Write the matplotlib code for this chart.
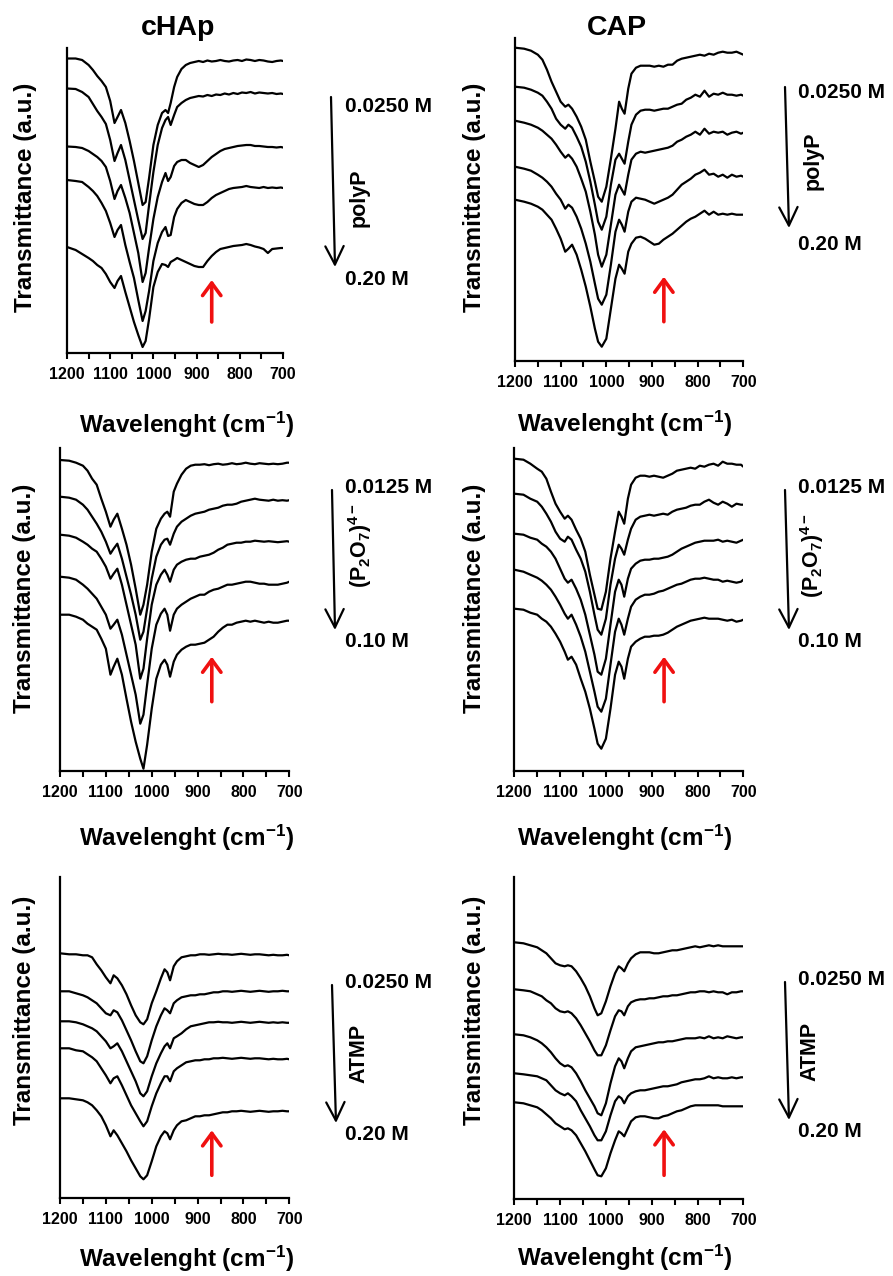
import matplotlib
matplotlib.use("Agg")
import matplotlib.pyplot as plt
from matplotlib.patches import FancyArrowPatch
from matplotlib.ticker import MultipleLocator

# ---------------------------------------------------------------- data
WAVENUMBER = [1200, 1180, 1165, 1150, 1140, 1130, 1120, 1110, 1100,
              1090, 1083, 1075, 1065, 1055, 1045, 1035, 1025, 1018, 1010,
              1000, 990, 980, 972, 966, 960, 952, 945, 935, 925,
              915, 905, 895, 885, 875, 865, 855, 845, 835, 825,
              815, 805, 795, 785, 775, 765, 755, 745, 735, 725,
              715, 705, 700]

XTICKS = [1200, 1100, 1000, 900, 800, 700]

# stacked transmittance traces (a.u.), low -> high additive concentration
CHAP_POLYP = [
    [294.5, 294.5, 293, 288, 283, 277, 272, 266, 252,
     230, 236, 243, 230, 212, 192, 170, 148, 151, 175,
     208, 228, 240, 243, 240, 250, 266, 276, 284, 288,
     290, 291, 292, 291, 292.5, 291.5, 292, 293, 292, 291.5,
     292.5, 293, 292, 293.5, 293, 292, 293, 292.5, 291.5, 291,
     292, 292.5, 292],
    [264.5, 264, 261, 256, 249, 242, 236, 229, 213,
     192, 200, 208, 193, 173, 153, 133, 114, 120, 148,
     181, 208, 225, 233, 236, 228, 238, 246, 250, 253,
     255, 256, 257, 256.5, 258, 257, 258.5, 258, 259.5, 258.5,
     260, 259, 260.5, 260, 261, 259.5, 260.5, 260, 259.5, 260,
     259, 259.5, 259],
    [206.5, 206, 205, 202, 199, 196, 192, 186, 172,
     154, 162, 168, 155, 140, 120, 100, 71, 80, 105,
     134, 156, 171, 180, 172, 176, 187, 191, 193, 193,
     190, 188, 186, 188, 192, 196, 199, 202, 204, 205,
     206, 207, 207.5, 208, 208, 207, 207, 206.5, 206, 206,
     205.5, 206, 205.5],
    [173, 172, 171, 166, 162, 157, 150, 142, 130,
     116, 123, 128, 108, 91, 75, 53, 32, 42, 62,
     92, 110, 121, 126, 117, 118, 136, 144, 150, 153,
     151, 149, 148, 148, 151, 155, 158, 160, 162, 164,
     165, 165.5, 166, 167, 166, 165.5, 165, 166, 165, 165.5,
     165, 165.5, 165],
    [106, 103, 99, 95, 92, 88, 85, 79, 71,
     65, 72, 77, 61, 46, 31, 18, 6, 12, 34,
     66, 81, 89, 88, 86, 91, 93, 95, 93, 91,
     89, 87, 86, 86, 92, 97, 101, 104, 105, 106,
     107, 107.5, 108, 109, 108, 106.5, 105.5, 104, 100, 104,
     104.5, 105, 105],
]

CAP_POLYP = [
    [313, 312, 310, 306, 301, 291, 279, 269, 259,
     254, 256, 252, 244, 234, 221, 199, 179, 164, 159,
     174, 202, 232, 259, 252, 247, 272, 287, 293, 295,
     295, 295, 294, 295, 294, 296, 296, 300, 302, 303,
     304, 305, 306, 305, 307, 306, 308, 309, 308, 308,
     309, 307, 306],
    [274, 273, 271, 268, 265, 259, 252, 242, 236,
     232, 236, 233, 224, 214, 199, 179, 156, 139, 131,
     144, 176, 201, 207, 202, 197, 219, 236, 246, 250,
     251, 251, 250, 251, 252, 252, 254, 256, 257, 261,
     263, 266, 264, 270, 264, 267, 266, 268, 266, 266,
     265, 266, 265],
    [240, 238, 236, 233, 230, 226, 222, 216, 209,
     203, 206, 202, 194, 182, 169, 149, 126, 106, 94,
     106, 136, 166, 176, 171, 166, 186, 201, 207, 209,
     208, 209, 210, 211, 212, 213, 215, 219, 221, 224,
     226, 229, 226, 232, 227, 229, 228, 229, 226, 228,
     229, 227, 228],
    [194, 192, 190, 186, 183, 179, 174, 167, 161,
     152, 156, 153, 144, 132, 117, 99, 77, 62, 56,
     66, 96, 129, 141, 136, 129, 149, 159, 163, 162,
     161, 159, 157, 159, 161, 163, 166, 171, 176, 179,
     182, 186, 188, 191, 186, 187, 184, 186, 183, 186,
     184, 185, 184],
    [161, 159, 157, 154, 151, 146, 141, 132, 122,
     109, 112, 116, 106, 91, 74, 54, 32, 19, 14,
     22, 52, 82, 96, 92, 87, 109, 117, 123, 124,
     122, 119, 116, 117, 121, 124, 127, 131, 135, 139,
     142, 144, 147, 150, 146, 149, 146, 147, 146, 147,
     146, 146, 146],
]

CHAP_P2O7 = [
    [310.7, 310, 308, 305, 300, 292, 286, 272, 259,
     244, 251, 257, 242, 226, 206, 182, 156, 166, 186,
     219, 242, 252, 257, 259, 254, 279, 287, 296, 302,
     305, 306, 306, 306.5, 305.5, 306.5, 307, 306, 306.5, 307.5,
     306.5, 307, 308, 307, 306.5, 307.5, 307, 306.5, 307, 306.5,
     307, 308, 308],
    [274, 273, 271, 266, 261, 254, 247, 239, 229,
     217, 222, 227, 212, 194, 176, 156, 131, 139, 162,
     192, 214, 226, 231, 232, 226, 237, 244, 249, 252,
     255, 257, 258, 259, 261, 262, 263, 265, 266, 266,
     267, 269, 270, 271, 272, 271, 270.5, 270, 271, 270,
     270.5, 270, 270.5],
    [236, 235, 233, 229, 226, 222, 219, 212, 204,
     192, 197, 202, 186, 166, 146, 126, 92, 102, 132,
     166, 186, 196, 201, 196, 189, 201, 206, 209, 211,
     212, 212, 214, 215, 216, 218, 221, 223, 226, 227,
     228, 228, 229, 229, 230, 229.5, 229, 229.5, 229, 228.5,
     229, 229.5, 229],
    [194, 193, 191, 186, 182, 177, 172, 164, 156,
     142, 146, 151, 136, 116, 96, 76, 47, 56, 86,
     122, 146, 157, 162, 156, 140, 156, 162, 166, 169,
     172, 174, 176, 176, 179, 181, 182, 184, 186, 186,
     187, 188, 189, 189, 188, 187, 187, 186, 186, 186,
     187, 188, 189],
    [156, 156, 154, 151, 147, 144, 141, 132, 122,
     96, 104, 112, 96, 72, 49, 29, 12, 2, 26,
     62, 92, 106, 111, 106, 94, 109, 116, 121, 124,
     126, 126, 127, 128, 131, 134, 139, 143, 146, 146,
     148, 149, 150, 149, 150, 149, 148, 149, 148, 148,
     149, 150, 150],
]

CAP_P2O7 = [
    [312, 311, 307, 302, 299, 292, 279, 267, 259,
     252, 255, 251, 241, 232, 219, 196, 176, 162, 161,
     179, 212, 239, 259, 254, 247, 272, 286, 293, 295,
     295, 294, 295, 294, 293, 295, 297, 300, 301, 302,
     303, 302, 305, 304, 306, 307, 305, 309, 307, 307,
     306, 306, 304],
    [277, 276, 272, 269, 264, 257, 249, 239, 232,
     229, 234, 231, 221, 212, 199, 179, 156, 141, 136,
     152, 186, 212, 226, 222, 216, 231, 242, 251, 254,
     255, 256, 255, 256, 257, 256, 259, 261, 262, 263,
     265, 266, 266, 269, 271, 268, 266, 269, 267, 264,
     267, 266, 266],
    [237, 236, 233, 231, 227, 224, 219, 212, 202,
     192, 188, 191, 182, 171, 156, 136, 116, 99, 96,
     112, 146, 179, 191, 186, 174, 192, 202, 207, 210,
     211, 211, 212, 212, 213, 214, 216, 219, 222, 224,
     226, 228, 229, 230, 230, 230, 231, 229, 230, 229,
     228, 230, 231],
    [201, 199, 196, 193, 190, 186, 181, 174, 166,
     157, 152, 156, 146, 134, 119, 99, 79, 64, 59,
     72, 106, 139, 152, 146, 136, 152, 164, 171, 174,
     176, 176, 177, 179, 180, 182, 184, 186, 187, 189,
     191, 192, 192, 193, 192, 191, 191, 189, 190, 189,
     188, 189, 191],
    [162, 161, 158, 156, 152, 149, 144, 137, 129,
     119, 111, 114, 106, 92, 79, 62, 42, 27, 22,
     32, 62, 96, 109, 104, 92, 112, 124, 129, 132,
     134, 134, 135, 135, 136, 138, 141, 144, 146, 148,
     150, 151, 152, 153, 152, 152, 152, 151, 150, 151,
     149, 150, 151],
]

CHAP_ATMP = [
    [245, 244, 244, 243, 243, 241, 234, 228, 221,
     215, 223, 220, 213, 204, 193, 183, 176, 174, 179,
     195, 207, 220, 229, 226, 218, 232, 237, 241, 242,
     243, 243, 244, 244, 243.5, 244, 244.5, 244, 244, 243.5,
     244, 244.5, 244, 243.5, 244, 244, 243.5, 243, 243.5, 243,
     243, 243.5, 243],
    [207, 207, 205, 203, 201, 198, 195, 190, 185,
     183, 188, 186, 178, 168, 158, 147, 137, 135, 142,
     158, 172, 183, 190, 188, 185, 195, 198, 201, 202,
     203, 203, 204, 204, 205, 206, 206, 207, 207, 206.5,
     207, 207.5, 207, 206.5, 207, 207.5, 207, 206.5, 207, 207,
     207.5, 207, 207],
    [177, 177, 176, 174, 172, 170, 167, 162, 157,
     150, 152, 155, 147, 137, 127, 117, 105, 102, 107,
     122, 135, 145, 152, 155, 150, 160, 162, 165, 169,
     172, 173, 174, 175, 176, 176, 176.5, 176, 176, 175.5,
     176, 176.5, 176, 175.5, 176, 176.5, 176, 175.5, 176, 175.5,
     176, 175.5, 175.5],
    [150, 150, 148, 147, 144, 141, 137, 130, 123,
     115, 120, 122, 113, 103, 93, 85, 77, 72, 77,
     92, 105, 115, 122, 122, 117, 127, 130, 133, 136,
     137, 138, 138, 139, 139, 140, 140, 140.5, 140, 139.5,
     140, 140.5, 140, 139.5, 140, 140, 139.5, 139, 139.5, 139,
     139, 139.5, 139],
    [100, 100, 99, 98, 96, 93, 88, 82, 73,
     62, 68, 63, 55, 47, 38, 30, 22, 19, 23,
     37, 52, 62, 67, 65, 59, 68, 73, 77, 78,
     80, 82, 82, 83, 83, 84, 85, 86, 86, 87,
     87, 87.5, 87, 86.5, 87, 87.5, 87, 86.5, 87, 87,
     87.5, 87, 87],
]

CAP_ATMP = [
    [257, 256, 254, 252, 249, 246, 241, 236, 234,
     233, 234, 233, 228, 221, 213, 203, 191, 184, 186,
     198, 213, 226, 233, 231, 228, 236, 241, 245, 247,
     247, 247, 246, 246, 247, 248, 249, 249, 250, 251,
     252, 253, 252, 253, 254, 253, 254, 253, 253, 253,
     253, 253, 253],
    [210, 209, 208, 205, 203, 199, 196, 191, 188,
     187, 188, 186, 181, 174, 166, 158, 149, 144, 144,
     154, 169, 183, 189, 188, 184, 193, 197, 199, 200,
     200, 201, 201, 202, 203, 203, 204, 204, 205, 206,
     207, 207, 208, 208, 207, 208, 207, 207, 205, 207,
     207, 208, 208],
    [165, 164, 162, 159, 156, 152, 147, 141, 136,
     133, 134, 132, 126, 118, 109, 101, 93, 86, 84,
     96, 116, 133, 141, 138, 131, 141, 148, 152, 153,
     154, 155, 156, 157, 157, 158, 158, 159, 160, 161,
     161, 161, 162, 161, 163, 161, 162, 161, 163, 162,
     161, 162, 162],
    [126, 125, 124, 123, 121, 119, 114, 109, 106,
     104, 106, 103, 98, 89, 81, 73, 64, 59, 59,
     68, 84, 98, 103, 101, 96, 103, 106, 108, 109,
     109, 110, 111, 112, 113, 113, 114, 115, 117, 118,
     119, 120, 120, 121, 123, 121, 122, 121, 121, 122,
     121, 122, 122],
    [97, 96, 94, 92, 89, 85, 81, 76, 73,
     70, 71, 69, 64, 56, 48, 39, 30, 24, 23,
     31, 46, 59, 68, 66, 63, 71, 78, 82, 83,
     83, 82, 81, 81, 83, 84, 86, 88, 89, 91,
     93, 94, 94, 94, 94, 94, 94, 93, 93, 93,
     93, 93, 93],
]

SAMPLES = ['cHAp', 'CAP']
POLYP_CONC = ['0.0250 M', '0.20 M']
P2O7_CONC = ['0.0125 M', '0.10 M']
ATMP_CONC = ['0.0250 M', '0.20 M']
ADDITIVES = ['polyP', r'(P$_2$O$_7$)$^{4-}$', 'ATMP']
MARKED_BAND = [865, 874, 869, 873, 869, 873]   # cm-1, position of red marker

# ---------------------------------------------------------------- style
plt.rcParams['font.family'] = ['Liberation Sans', 'DejaVu Sans']
plt.rcParams['font.weight'] = 'bold'
plt.rcParams['mathtext.fontset'] = 'custom'
plt.rcParams['mathtext.rm'] = 'Liberation Sans:bold'
plt.rcParams['mathtext.it'] = 'Liberation Sans:bold'
plt.rcParams['mathtext.bf'] = 'Liberation Sans:bold'

W, H = 893, 1276
fig = plt.figure(figsize=(W / 100, H / 100), dpi=100)


def fpos(x, y):
    """figure-pixel (top-left origin) -> figure fraction"""
    return x / W, 1 - y / H


# panel layout: axes box in figure pixels (x0, y0, x1, y1)
panels = [
    dict(box=(67, 48, 283, 353), data=CHAP_POLYP, conc=POLYP_CONC, add=ADDITIVES[0],
         xl=(187, 433), yl=(26, 197), arr=((331, 97), (335, 267)),
         c_hi=(345, 111.7), c_lo=(345, 285), addpos=(359, 197.5),
         red=(73, 31), title=(SAMPLES[0], 178, 35)),
    dict(box=(515, 38.3, 743.3, 360.7), data=CAP_POLYP, conc=POLYP_CONC, add=ADDITIVES[0],
         xl=(625, 432), yl=(474, 197), arr=((785, 87), (789, 228)),
         c_hi=(798, 98), c_lo=(798, 250), addpos=(813, 161),
         red=(84, 39), title=(SAMPLES[1], 617, 35)),
    dict(box=(60, 448.3, 289.3, 770.7), data=CHAP_P2O7, conc=P2O7_CONC, add=ADDITIVES[1],
         xl=(187, 846), yl=(25, 598), arr=((332, 490), (335, 630)),
         c_hi=(345, 493), c_lo=(345, 646.7), addpos=(360, 545),
         red=(114, 69), title=None),
    dict(box=(514.3, 448.3, 743.3, 770.7), data=CAP_P2O7, conc=P2O7_CONC, add=ADDITIVES[1],
         xl=(625, 846), yl=(474, 598), arr=((785, 490), (789, 630)),
         c_hi=(798, 493), c_lo=(798, 646.7), addpos=(812, 555),
         red=(114, 69), title=None),
    dict(box=(60, 876.7, 289.3, 1198.3), data=CHAP_ATMP, conc=ATMP_CONC, add=ADDITIVES[2],
         xl=(187, 1267), yl=(25, 1010), arr=((332, 985), (336, 1123)),
         c_hi=(345, 988), c_lo=(345, 1140), addpos=(359, 1053),
         red=(68, 23), title=None),
    dict(box=(514.3, 876.7, 743.3, 1199.3), data=CAP_ATMP, conc=ATMP_CONC, add=ADDITIVES[2],
         xl=(625, 1266), yl=(474, 1010), arr=((785, 982), (789, 1120)),
         c_hi=(798, 985), c_lo=(798, 1137), addpos=(810, 1051),
         red=(70, 24), title=None),
]

for i, p in enumerate(panels):
    x0, y0, x1, y1 = p['box']
    ax = fig.add_axes([x0 / W, 1 - y1 / H, (x1 - x0) / W, (y1 - y0) / H])
    for trace in p['data']:
        ax.plot(WAVENUMBER, trace, color='black', lw=1.6,
                solid_joinstyle='round', solid_capstyle='round')
    ax.set_xlim(1200, 700)
    ax.set_ylim(0, y1 - y0)
    ax.set_xticks(XTICKS)
    ax.set_xticklabels([str(t) for t in XTICKS])
    ax.xaxis.set_minor_locator(MultipleLocator(50))
    ax.set_yticks([])
    for side in ('top', 'right'):
        ax.spines[side].set_visible(False)
    for side in ('left', 'bottom'):
        ax.spines[side].set_linewidth(1.6)
    ax.tick_params(axis='x', which='both', direction='out', length=4,
                   width=1.5, labelsize=11.5, pad=6)
    for lab in ax.get_xticklabels():
        lab.set_fontweight('bold')

    # red marker pointing at the new band
    tip, tail = p['red']
    ax.annotate('', xy=(MARKED_BAND[i], tip), xytext=(MARKED_BAND[i], tail),
                arrowprops=dict(arrowstyle='->,head_length=0.75,head_width=0.55',
                                color='#f01010', lw=2.6, shrinkA=0, shrinkB=0,
                                mutation_scale=12))

    # axis labels
    fig.text(*fpos(*p['xl']), r'Wavelenght (cm$^{-1}$)', ha='center',
             va='baseline', fontsize=17.5, fontweight='bold')
    fig.text(*fpos(*p['yl']), 'Transmittance (a.u.)', ha='center',
             va='center', rotation=90, fontsize=17.5, fontweight='bold')

    # concentration trend arrow and labels
    (ax_, ay_), (bx_, by_) = p['arr']
    fig.add_artist(FancyArrowPatch(fpos(ax_, ay_), fpos(bx_, by_),
                                   transform=fig.transFigure,
                                   arrowstyle='->,head_length=1.1,head_width=0.55',
                                   mutation_scale=12, lw=1.6, color='black',
                                   shrinkA=0, shrinkB=0))
    fig.text(*fpos(*p['c_hi']), p['conc'][0], ha='left', va='baseline',
             fontsize=15, fontweight='bold')
    fig.text(*fpos(*p['c_lo']), p['conc'][1], ha='left', va='baseline',
             fontsize=15, fontweight='bold')
    fig.text(*fpos(*p['addpos']), p['add'], ha='center', va='center',
             rotation=90, fontsize=15.5, fontweight='bold')

    if p['title']:
        t, tx, ty = p['title']
        fig.text(*fpos(tx, ty), t, ha='center', va='baseline',
                 fontsize=20.5, fontweight='bold')

fig.savefig('out.png', dpi=100, facecolor='white')
